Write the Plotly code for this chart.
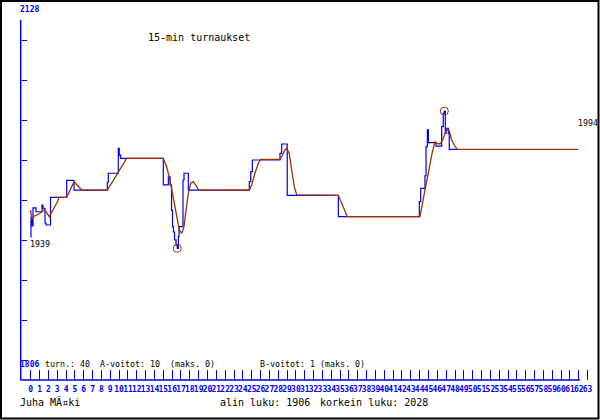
import plotly.graph_objects as go

W, H = 600, 420

# ---- data (x in game/tick units, y in rating) ----
blue_x = [0.00, 0.03, 0.15, 0.26, 0.60, 1.28, 1.39, 1.62, 1.73, 2.24, 4.07, 4.90,
          8.67, 8.78, 9.91, 10.02, 10.18, 15.00, 15.57, 15.76, 15.93, 16.04, 16.15,
          16.27, 16.44, 16.58, 16.70, 16.78, 17.23, 17.34, 17.83, 24.73, 24.89, 25.07,
          28.20, 28.39, 29.02, 34.80, 43.96, 44.12, 44.60, 44.72, 44.87, 44.99, 45.85,
          46.49, 46.67, 46.79, 46.90, 46.98, 47.24, 47.35, 48.26]
blue_y = [1916, 1933, 1926, 1942, 1938.5, 1944.5, 1941.6, 1928.5, 1926.7, 1951.3, 1966.4, 1957.8,
          1964.7, 1972.7, 1994.9, 1988.9, 1986, 1962.3, 1969.6, 1962.3, 1940, 1925.2, 1920.5,
          1913.4, 1908.9, 1906, 1916.3, 1925.2, 1966.7, 1972.7, 1957.8, 1965.2, 1974.1, 1984.5,
          1990.4, 1998.7, 1953.1, 1934.1, 1947.4, 1959.3, 1970.3, 1996.3, 2011.2, 1999.9, 1996.9,
          2014.1, 2026, 2028, 2008.2, 2012.7, 2008.2, 1994, 1994]

brown_x = [0.00, 0.11, 0.29, 0.68, 1.05, 1.43, 1.62, 2.10, 2.56, 2.94, 3.24, 4.07, 4.90,
           5.77, 8.67, 10.86, 15.00, 15.38, 15.76, 16.13, 16.52, 16.81, 17.08, 17.34, 17.57,
           17.83, 18.10, 18.39, 18.78, 19.00, 24.73, 25.00, 25.37, 25.75, 26.02, 28.20, 28.39,
           28.76, 28.96, 29.25, 29.52, 29.82, 30.09, 34.80, 35.18, 35.55, 35.81, 44.04, 44.23,
           44.60, 44.98, 45.36, 45.73, 45.93, 46.30, 46.61, 46.87, 47.13, 47.35, 47.62, 47.91,
           48.26, 61.95]
brown_y = [1940, 1931.2, 1934.1, 1935.6, 1937.1, 1940, 1940, 1934.1, 1940, 1946, 1951.3, 1951.3, 1965.2,
           1957.8, 1957.8, 1986, 1986, 1978.5, 1966.7, 1951.9, 1934.1, 1922.3, 1919.3, 1925.2, 1940,
           1954.9, 1963.8, 1965.2, 1960.8, 1957.8, 1957.6, 1962.3, 1972.7, 1981.6, 1985.1, 1985.1, 1987.4,
           1993.4, 1994.9, 1990.4, 1975.6, 1960.8, 1953.4, 1953.1, 1946, 1938.5, 1934.1, 1934.1, 1943,
           1957.8, 1972.7, 1988.9, 2000.8, 1999.3, 1998.7, 2002.3, 2008.2, 2011.8, 2010.5, 2002.3, 1997.8,
           1994, 1994]

extreme_x = [16.58, 46.79]
extreme_y = [1906, 2028]

x_ticks = list(range(64))
x_tick_labels = [str(i) for i in x_ticks]

BLUE = "#0000ff"
BROWN = "#993300"
MONO = "DejaVu Sans Mono"

# pixel <-> data helpers for the layout (axis ranges / decorative ticks)
X0_PX, DX_PX = 30.7, 8.84
Y_REF_PX, Y_REF_V, PX_PER_PT = 248.3, 1906, 1.125


def u_at(px):
    return (px - X0_PX) / DX_PX


def v_at(py):
    return Y_REF_V + (Y_REF_PX - py) / PX_PER_PT


def px(x):
    return x / W


def py(y):
    return 1 - y / H


fig = go.Figure()
fig.add_trace(go.Scatter(x=blue_x, y=blue_y, mode="lines",
                         line=dict(color=BLUE, width=1.2, shape="hv"), hoverinfo="skip"))
fig.add_trace(go.Scatter(x=brown_x, y=brown_y, mode="lines",
                         line=dict(color=BROWN, width=1.3), hoverinfo="skip"))
fig.add_trace(go.Scatter(x=extreme_x, y=extreme_y, mode="markers",
                         marker=dict(symbol="circle-open", size=8, color=BROWN,
                                     line=dict(width=1, color=BROWN)), hoverinfo="skip"))

fig.update_layout(
    width=W, height=H, margin=dict(l=0, r=0, t=0, b=0),
    paper_bgcolor="white", plot_bgcolor="white", showlegend=False,
    xaxis=dict(range=[u_at(0), u_at(W)], tickmode="array", tickvals=x_ticks,
               ticktext=x_tick_labels, ticks="inside", ticklen=10, tickwidth=1,
               tickcolor=BLUE, showgrid=False, zeroline=False, showline=False,
               anchor="free", position=py(380), tickangle=0, ticklabelstandoff=3,
               tickfont=dict(family=MONO, size=8, color=BLUE, weight="bold")),
    yaxis=dict(range=[v_at(H), v_at(0)], tickmode="array",
               tickvals=[v_at(p) for p in range(40, 361, 40)],
               ticks="inside", ticklen=5, tickwidth=1, tickcolor=BLUE,
               showticklabels=False, showgrid=False, zeroline=False, showline=False,
               anchor="free", position=px(20.7)),
)

shapes = [
    dict(type="rect", xref="paper", yref="paper", x0=px(1), x1=px(598.5), y0=py(418.5), y1=py(1),
         line=dict(color="black", width=2)),
    dict(type="line", xref="paper", yref="paper", x0=px(20.7), x1=px(20.7), y0=py(380), y1=py(20),
         line=dict(color=BLUE, width=1.5)),
    dict(type="line", xref="paper", yref="paper", x0=px(20.7), x1=px(580), y0=py(380), y1=py(380),
         line=dict(color=BLUE, width=1.5)),
]
fig.update_layout(shapes=shapes)


def label(text, x, y, size, color="black", weight="normal"):
    fig.add_annotation(text=text, x=px(x), y=py(y), xref="paper", yref="paper",
                       xanchor="left", yanchor="middle", showarrow=False,
                       borderpad=0, font=dict(family=MONO, size=size, color=color, weight=weight))


label("2128", 19, 9, 8, BLUE, "bold")
label("15-min turnaukset", 147, 37, 10)
label("1939", 29, 244, 8.3)
label("1994", 577, 123, 8.3)
label("1806", 19, 364, 8, BLUE, "bold")
label("turn.: 40", 44, 364, 8.3)
label("A-voitot: 10", 99, 364, 8.3)
label("(maks. 0)", 169, 364, 8.3)
label("B-voitot: 1 (maks. 0)", 258.5, 364, 8.3)
label("Juha MÃ¤ki", 19, 402, 10)
label("alin luku: 1906", 219, 402, 10)
label("korkein luku: 2028", 319, 402, 10)

fig.write_html("out.html", config={"displayModeBar": False},
               post_script="document.body.style.margin='0';")
